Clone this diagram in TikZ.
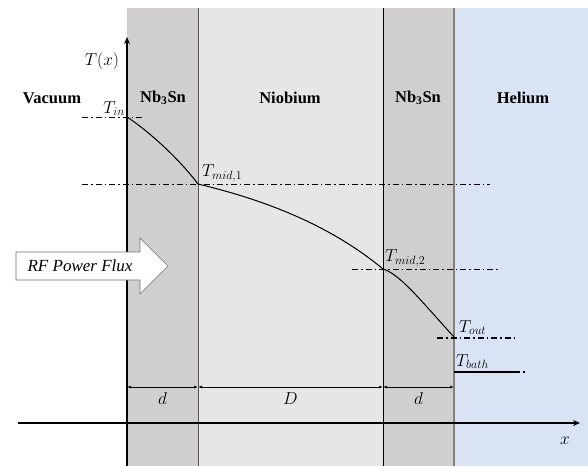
\documentclass[tikz,border=0pt]{standalone}
\usepackage{fontspec}
\setmainfont{Liberation Serif}
\usetikzlibrary{arrows.meta}
\definecolor{tinlayer}{HTML}{D0CECE}
\definecolor{nblayer}{HTML}{E7E6E6}
\definecolor{helayer}{HTML}{DAE3F3}
\tikzset{
  layername/.style={font=\bfseries\fontsize{16.5}{18}\selectfont},
  templabel/.style={font=\fontsize{17.5}{19}\selectfont,inner sep=1pt},
  dashdot line/.style={line width=.9pt,dash pattern=on 6pt off 3pt on 1.5pt off 3pt},
  dimarrow/.style={{Latex[length=4pt,width=3pt]}-{Latex[length=4pt,width=3pt]},line width=.8pt}
}
\begin{document}
\begin{tikzpicture}[x=1pt,y=-1pt]
\useasboundingbox (0,0) rectangle (588,466);
\fill[tinlayer] (127,8) rectangle (198,466);
\fill[nblayer] (198,8) rectangle (383,466);
\fill[tinlayer] (383,8) rectangle (454,466);
\fill[helayer] (454,8) rectangle (588,466);
\draw[black!65,line width=.8pt] (198,8)--(198,466);
\draw[line width=.8pt] (383,8)--(383,466);
\draw[black!50,line width=1.8pt] (454,8)--(454,466);
\node[layername] (vac) at (52,98) {Vacuum};
\node[layername] (tin1) at (163,98) {Nb\textsubscript{3}Sn};
\node[layername] (nb) at (290,98) {Niobium};
\node[layername] (tin2) at (418,98) {Nb\textsubscript{3}Sn};
\node[layername] (he) at (523,98) {Helium};
\coordinate (tin) at (127,117);
\coordinate (tm1) at (198,184);
\coordinate (tm2) at (383,269);
\coordinate (tout) at (454,337);
\coordinate (tbath) at (454,372);
\draw[dashdot line] (82,117)--(143,117);
\draw[dashdot line] (82,184)--(490,184);
\draw[dashdot line] (352,269)--(498,269);
\draw[dashdot line,line width=1.5pt] (437,338)--(514,338);
\draw[line width=1.6pt] (tbath)--(514,372);
\draw[dashdot line,line width=1.2pt] (514,372)--(527,372);
\draw[line width=1pt] (tin) .. controls (150,132) and (180,160) .. (tm1)
  .. controls (265,200) and (330,225) .. (tm2)
  .. controls (400,274) and (422,302) .. (tout);
\node[templabel,anchor=south east] (lin) at (126,117) {$T_{in}$};
\node[templabel,anchor=south west] (lm1) at (201,183) {$T_{mid,1}$};
\node[templabel,anchor=south west] (lm2) at (384,268) {$T_{mid,2}$};
\node[templabel,anchor=south west] (lout) at (458,336) {$T_{out}$};
\node[templabel,anchor=south west] (lbath) at (455,370) {$T_{bath}$};
\draw[-{Stealth[length=7pt,width=6pt]},line width=1.3pt] (127,466)--(127,37);
\node[templabel] (tx) at (102,61) {$T(x)$};
\draw[-{Stealth[length=7pt,width=6pt]},line width=1.3pt] (18,423)--(580,423);
\node[templabel] (xl) at (565,441) {$x$};
\coordinate (d0) at (127,387);
\coordinate (d1) at (198,387);
\coordinate (d2) at (383,387);
\coordinate (d3) at (454,387);
\draw[dimarrow] (d0)--(d1) node[midway,below=4pt,templabel] {$d$};
\draw[dimarrow] (d1)--(d2) node[midway,below=4pt,templabel] {$D$};
\draw[dimarrow] (d2)--(d3) node[midway,below=4pt,templabel] {$d$};
\draw[black!55,fill=white,line width=.6pt] (16,252)--(140,252)--(140,238)--(168,266)--(140,294)--(140,280)--(16,280)--cycle;
\node[font=\itshape\fontsize{17}{18}\selectfont] (rf) at (80,266) {RF Power Flux};
\end{tikzpicture}
\end{document}
